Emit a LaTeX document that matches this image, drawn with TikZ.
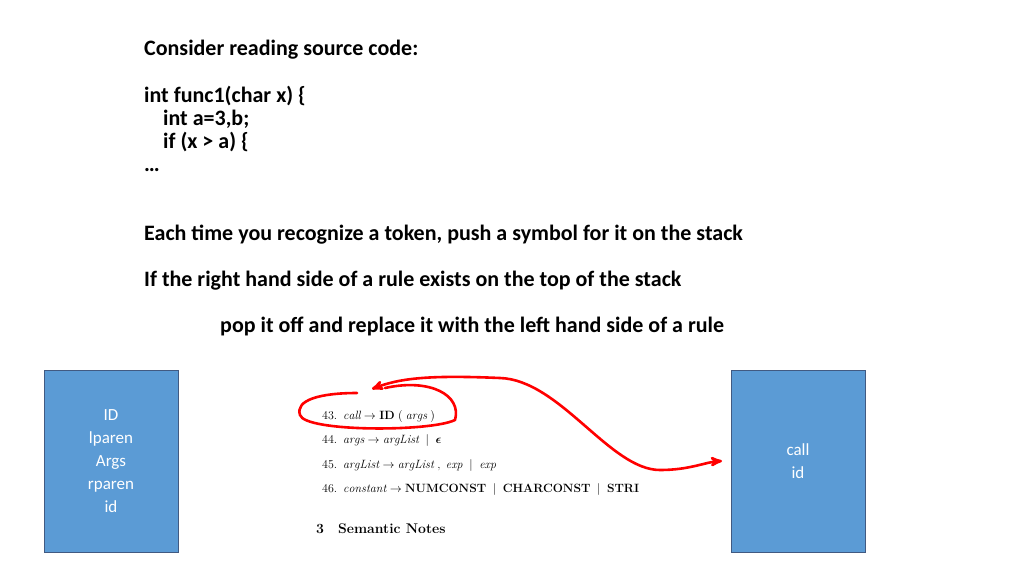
\documentclass[tikz,border=0pt]{standalone}
\usepackage{amsmath}
\usepackage{fontspec}
\setsansfont{Carlito}
\usetikzlibrary{arrows}
\tikzset{
    tline/.style = {anchor=base west, inner sep=0pt, font=\sffamily\bfseries\fontsize{22}{26}\selectfont},
    stack/.style = {draw={rgb,255:red,65;green,90;blue,130}, fill={rgb,255:red,91;green,155;blue,213}, minimum width=134pt, minimum height=182pt, anchor=north west},
    stext/.style = {align=center, white, font=\sffamily\fontsize{17}{23}\selectfont},
    rule/.style = {anchor=base west, inner sep=0pt, font=\fontsize{12}{14}\selectfont},
    ink/.style = {red, line width=2.6pt, line cap=round, line join=round}
}
\begin{document}
\begin{tikzpicture}[x=1pt,y=-1pt]
\useasboundingbox (0,0) rectangle (1024,576);
% text on top
\node [tline] (t1) at (144,55) {Consider reading source code:};
\node [tline] (t2) at (144,102) {int func1(char x) \{};
\node [tline] (t3) at (163,125) {int a=3,b;};
\node [tline] (t4) at (163,148) {if (x > a) \{};
\node [tline] (t5) at (144,171) {\dots};
\node [tline] (t6) at (144,240) {Each time you recognize a token, push a symbol for it on the stack};
\node [tline] (t7) at (144,286) {If the right hand side of a rule exists on the top of the stack};
\node [tline] (t8) at (220,332) {pop it off and replace it with the left hand side of a rule};
% stacks
\node [stack] (left) at (44,370) {};
\node [stext] (lefttext) at (111,461) {ID\\lparen\\Args\\rparen\\id};
\node [stack] (right) at (731,370) {};
\node [stext] (righttext) at (798,461) {call\\id};
% grammar
\node [rule] (r43) at (322,419) {43.\enspace $\mathit{call}\rightarrow\textbf{ID}\;(\;\mathit{args}\;)$};
\node [rule] (r44) at (322,443) {44.\enspace $\mathit{args}\rightarrow\mathit{argList}\;\mid\;\boldsymbol{\epsilon}$};
\node [rule] (r45) at (322,468) {45.\enspace $\mathit{argList}\rightarrow\mathit{argList}\;,\;\mathit{exp}\;\mid\;\mathit{exp}$};
\node [rule] (r46) at (322,492) {46.\enspace $\mathit{constant}\rightarrow\textbf{NUMCONST}\;\mid\;\textbf{CHARCONST}\;\mid\;\textbf{STRI}$};
\node [rule, font=\bfseries\fontsize{14}{16}\selectfont] (sec) at (316,533) {3\quad Semantic Notes};
% red ink
\coordinate (loopstart) at (357,393);
\coordinate (tipleft) at (372,389);
\coordinate (tipright) at (722,461);
\draw [ink] (loopstart) .. controls (320,393) and (295,400) .. (300,415)
    .. controls (305,432) and (430,432) .. (455,420)
    .. controls (462,395) and (430,378) .. (385,388);
\draw [ink, <->, >=stealth', shorten <=0pt, arrows={<[scale=1.4]-> [scale=1.6]}] (tipleft) .. controls (400,378) and (430,375) .. (500,378)
    .. controls (560,380) and (610,470) .. (660,470)
    .. controls (690,470) and (705,462) .. (tipright);
\end{tikzpicture}
\end{document}
